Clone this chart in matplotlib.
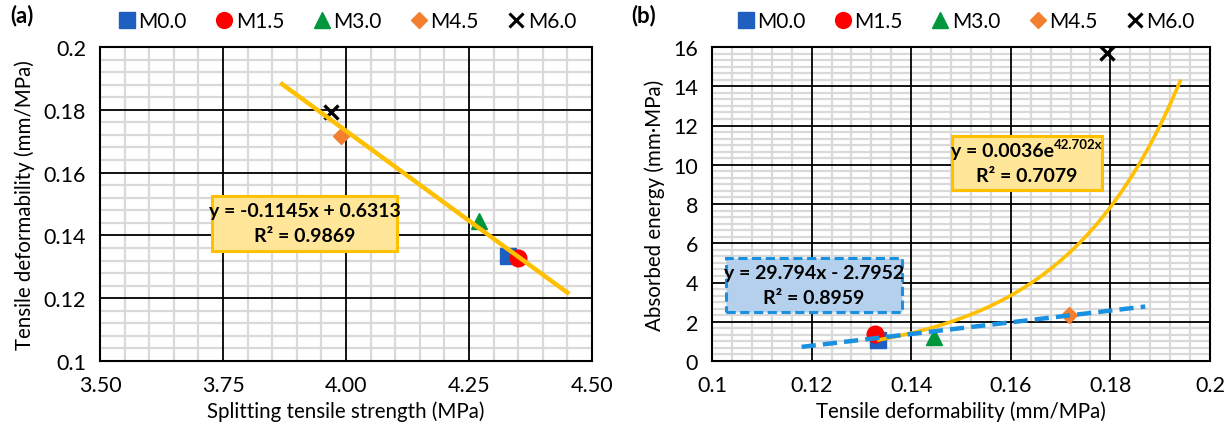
import numpy as np
import matplotlib
matplotlib.use("Agg")
import matplotlib.pyplot as plt
from matplotlib.patches import Rectangle
from matplotlib.ticker import MultipleLocator, AutoMinorLocator
from matplotlib.lines import Line2D

plt.rcParams['font.family'] = ['Lato', 'DejaVu Sans']

# Mix data
mixes = ["M0.0", "M1.5", "M3.0", "M4.5", "M6.0"]
strength = [4.33, 4.35, 4.27, 3.99, 3.97]                 # splitting tensile strength (MPa)
deformability = [0.1334, 0.1328, 0.1446, 0.1716, 0.1793]  # tensile deformability (mm/MPa)
energy = [1.08, 1.37, 1.20, 2.34, 15.7]                   # absorbed energy (mm·MPa)

# Fitted trend lines (coefficients as reported)
lin_a = (-0.1145, 0.6313)
lin_a_range = (3.87, 4.45)
exp_b = (0.0036, 42.702)
exp_b_range = (0.1335, 0.194)
lin_b = (29.794, -2.7952)
lin_b_range = (0.118, 0.187)

markers = ["s", "o", "^", "D", "x"]
colors = ["#1F5FBF", "#FF0000", "#00963C", "#F28030", "#000000"]
msizes = [12, 12, 12, 8.5, 10]

W, H = 1230, 431
fig = plt.figure(figsize=(W / 100, H / 100), dpi=100)

def px_axes(l, t, r, b):
    return fig.add_axes([l / W, 1 - b / H, (r - l) / W, (b - t) / H])

ax1 = px_axes(100, 48, 592, 362)
ax2 = px_axes(712, 48, 1210, 362)

TICK_FS = 15.5
LABEL_FS = 14.8
ANN_FS = 14

def style_axes(ax, xmaj, xdiv, ymaj, ydiv):
    ax.xaxis.set_major_locator(MultipleLocator(xmaj))
    ax.xaxis.set_minor_locator(AutoMinorLocator(xdiv))
    ax.yaxis.set_major_locator(MultipleLocator(ymaj))
    ax.yaxis.set_minor_locator(AutoMinorLocator(ydiv))
    # light minor grid underneath, black major grid on top of it
    for v in ax.xaxis.get_minorticklocs():
        ax.axvline(v, color="#d9d9d9", lw=1.6, zorder=0.1)
    for v in ax.yaxis.get_minorticklocs():
        ax.axhline(v, color="#d9d9d9", lw=1.6, zorder=0.1)
    ax.grid(which="major", color="#000000", linewidth=1.3)
    ax.set_axisbelow(True)
    ax.tick_params(which="both", length=0, labelsize=TICK_FS, pad=10)
    for s in ax.spines.values():
        s.set_linewidth(1.5)
        s.set_color("#000000")

def draw_points(ax, xs, ys):
    for i, m in enumerate(mixes):
        kw = dict(marker=markers[i], color=colors[i], ms=msizes[i], ls="none", label=m, zorder=3)
        if markers[i] == "x":
            kw.update(mew=2.4)
        else:
            kw.update(mec=colors[i])
        ax.plot(xs[i], ys[i], **kw)

def fig_box(x0, top, w, h, fc, ec, ls="-"):
    fig.add_artist(Rectangle((x0 / W, 1 - (top + h) / H), w / W, h / H,
                             transform=fig.transFigure, facecolor=fc, edgecolor=ec,
                             lw=2.2, ls=ls, zorder=6))

def fig_label(xc, yc, s):
    fig.text(xc / W, 1 - yc / H, s, ha="center", va="center", fontsize=ANN_FS,
             fontweight="bold", zorder=7)

# ---- Panel (a) ----
ax1.set_xlim(3.5, 4.5)
ax1.set_ylim(0.1, 0.2)
style_axes(ax1, 0.25, 5, 0.02, 5)
ax1.xaxis.set_major_formatter(plt.FuncFormatter(lambda v, p: f"{v:.2f}"))
ax1.yaxis.set_major_formatter(plt.FuncFormatter(lambda v, p: f"{v:g}"))

xa = np.linspace(*lin_a_range, 50)
ax1.plot(xa, lin_a[0] * xa + lin_a[1], color="#FFC000", lw=3.2, zorder=4)
draw_points(ax1, strength, deformability)

ax1.set_xlabel("Splitting tensile strength (MPa)", fontsize=LABEL_FS, labelpad=4)
ax1.set_ylabel("Tensile deformability (mm/MPa)", fontsize=LABEL_FS, labelpad=6)

fig_box(212, 197, 185, 55, "#FFE699", "#FFC000")
fig_label(304.5, 211, "y = -0.1145x + 0.6313")
fig_label(304.5, 237, "R² = 0.9869")

# ---- Panel (b) ----
ax2.set_xlim(0.1, 0.2)
ax2.set_ylim(0, 16)
style_axes(ax2, 0.02, 5, 2, 6)
ax2.xaxis.set_major_formatter(plt.FuncFormatter(lambda v, p: f"{v:g}"))

xb = np.linspace(*exp_b_range, 200)
ax2.plot(xb, exp_b[0] * np.exp(exp_b[1] * xb), color="#FFC000", lw=2.6, zorder=4)
xl = np.linspace(*lin_b_range, 50)
ax2.plot(xl, lin_b[0] * xl + lin_b[1], color="#1A90E0", lw=3.2, ls=(0, (3.2, 1.6)), zorder=4)
draw_points(ax2, deformability, energy)

ax2.set_xlabel("Tensile deformability (mm/MPa)", fontsize=LABEL_FS, labelpad=4)
ax2.set_ylabel("Absorbed energy (mm·MPa)", fontsize=LABEL_FS, labelpad=6)

fig_box(952, 137, 150, 54, "#FFE699", "#FFC000")
# equation with superscript exponent, centred as one line
t_main = fig.text(0, 1 - 152 / H, "y = 0.0036e", ha="left", va="center",
                  fontsize=ANN_FS, fontweight="bold", zorder=7)
t_sup = fig.text(0, 1 - 145 / H, "42.702x", ha="left", va="center",
                 fontsize=ANN_FS * 0.68, fontweight="bold", zorder=7)
fig.canvas.draw()
r = fig.canvas.get_renderer()
w_main = t_main.get_window_extent(r).width
w_sup = t_sup.get_window_extent(r).width
x_start = 1027 - (w_main + w_sup) / 2
t_main.set_x(x_start / W)
t_sup.set_x((x_start + w_main) / W)
fig_label(1027, 177, "R² = 0.7079")

fig_box(726, 259, 176, 54, "#B4D0EC", "#1A90E0", ls=(0, (3, 1.5)))
fig_label(814, 273, "y = 29.794x - 2.7952")
fig_label(814, 298, "R² = 0.8959")

# Legends
def legend_handles():
    hs = []
    for i, m in enumerate(mixes):
        kw = dict(marker=markers[i], color=colors[i], ms=msizes[i] * 0.95, ls="none")
        if markers[i] == "x":
            kw.update(mew=2.2)
        hs.append(Line2D([], [], **kw))
    return hs

for ax, cx in ((ax1, 0.503), (ax2, 0.51)):
    ax.legend(legend_handles(), mixes, loc="center", bbox_to_anchor=(cx, 1.083), ncol=5,
              frameon=False, fontsize=15, handlelength=0.8, handletextpad=0.15,
              columnspacing=1.4, borderaxespad=0)

fig.text(10 / W, 1 - 16 / H, "(a)", fontsize=16, fontweight="bold", va="center", ha="left")
fig.text(631 / W, 1 - 16 / H, "(b)", fontsize=16, fontweight="bold", va="center", ha="left")

fig.savefig("out.png", dpi=100)
